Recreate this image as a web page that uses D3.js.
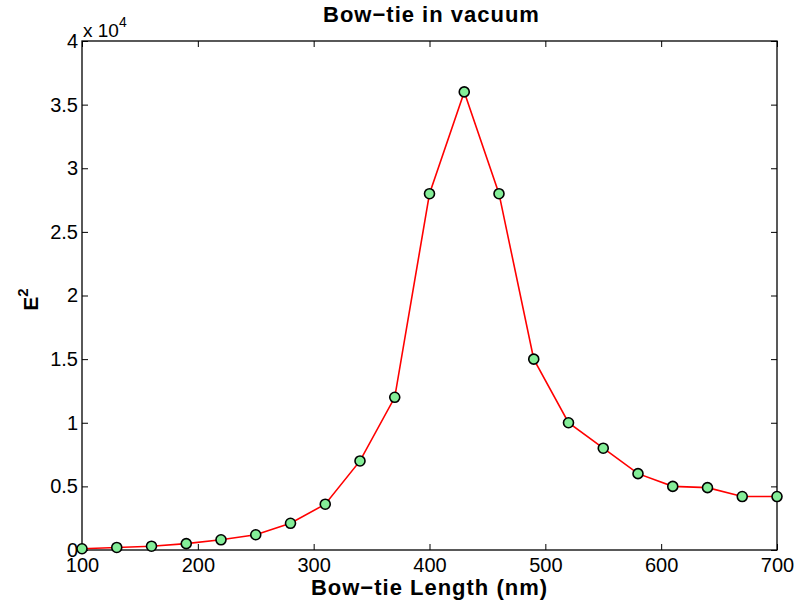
<!DOCTYPE html>
<html>
<head>
<meta charset="utf-8">
<script src="https://cdn.jsdelivr.net/npm/d3@7"></script>
<style>
  body { margin: 0; background: #fff; }
  text { font-family: "Liberation Sans", Arial, sans-serif; }
</style>
</head>
<body>
<svg id="chart" width="797" height="608"></svg>
<script>
'use strict'

// bow-tie length (nm) vs field intensity E^2 (x 1e4)
const lengths = [100, 130, 160, 190, 220, 250, 280, 310, 340, 370, 400,
  430, 460, 490, 520, 550, 580, 610, 640, 670, 700]
const e2 = [0.01, 0.02, 0.03, 0.05, 0.08, 0.12, 0.21, 0.36, 0.7, 1.2, 2.8,
  3.6, 2.8, 1.5, 1.0, 0.8, 0.6, 0.5, 0.49, 0.42, 0.42]
const xTicks = [100, 200, 300, 400, 500, 600, 700]
const yTicks = [0, 0.5, 1, 1.5, 2, 2.5, 3, 3.5, 4]

const m = {left: 82, right: 20, top: 41, bottom: 58}
const W = 797, H = 608
const iw = W - m.left - m.right, ih = H - m.top - m.bottom

const svg = d3.select('#chart')
const g = svg.append('g').attr('transform', `translate(${m.left},${m.top})`)

const x = d3.scaleLinear().domain([100, 700]).range([0, iw])
const y = d3.scaleLinear().domain([0, 4]).range([ih, 0])

// axes with inward ticks, MATLAB style
const fmt = d => String(d)
const xb = g.append('g').attr('transform', `translate(0,${ih})`)
  .call(d3.axisBottom(x).tickValues(xTicks).tickSizeInner(-6).tickSizeOuter(0).tickPadding(8).tickFormat(fmt))
g.append('g')
  .call(d3.axisTop(x).tickValues(xTicks).tickSizeInner(-6).tickSizeOuter(0).tickFormat(''))
g.append('g')
  .call(d3.axisLeft(y).tickValues(yTicks).tickSizeInner(-6).tickSizeOuter(0).tickPadding(4).tickFormat(fmt))
g.append('g').attr('transform', `translate(${iw},0)`)
  .call(d3.axisRight(y).tickValues(yTicks).tickSizeInner(-6).tickSizeOuter(0).tickFormat(''))

g.selectAll('.domain').remove()
g.selectAll('.tick line').attr('stroke', '#000')
g.selectAll('.tick text').attr('font-size', 20).attr('fill', '#000')
xb.selectAll('.tick text').attr('dy', '0.71em')

g.append('rect').attr('width', iw).attr('height', ih)
  .attr('fill', 'none').attr('stroke', '#000').attr('stroke-width', 1.3)

// line + markers
const line = d3.line().x((d, i) => x(lengths[i])).y(d => y(d))
g.append('path').datum(e2).attr('d', line)
  .attr('fill', 'none').attr('stroke', '#ff0000').attr('stroke-width', 1.6)
g.selectAll('circle.pt').data(e2).enter().append('circle')
  .attr('class', 'pt')
  .attr('cx', (d, i) => x(lengths[i]))
  .attr('cy', d => y(d))
  .attr('r', 5)
  .attr('fill', '#84ee98').attr('stroke', '#000').attr('stroke-width', 1.6)

// exponent label
const ex = svg.append('text').attr('x', m.left + 1).attr('y', m.top - 4)
  .attr('font-size', 19).attr('fill', '#000')
ex.append('tspan').text('x 10')
ex.append('tspan').attr('dy', -10).attr('font-size', 14).text('4')

// title and labels
svg.append('text').attr('x', m.left + iw / 2 + 2).attr('y', 22)
  .attr('text-anchor', 'middle').attr('font-size', 22).attr('font-weight', 'bold')
  .attr('letter-spacing', 1)
  .text('Bow\u2212tie in vacuum')
svg.append('text').attr('x', m.left + iw / 2).attr('y', 595)
  .attr('text-anchor', 'middle').attr('font-size', 22).attr('font-weight', 'bold')
  .attr('letter-spacing', 1)
  .text('Bow\u2212tie Length (nm)')
const ylab = svg.append('text').attr('transform', `translate(38,${m.top + ih / 2 + 4}) rotate(-90)`)
  .attr('text-anchor', 'middle').attr('font-size', 21).attr('font-weight', 'bold')
ylab.append('tspan').text('E')
ylab.append('tspan').attr('dy', -10).attr('font-size', 15).text('2')
</script>
</body>
</html>
